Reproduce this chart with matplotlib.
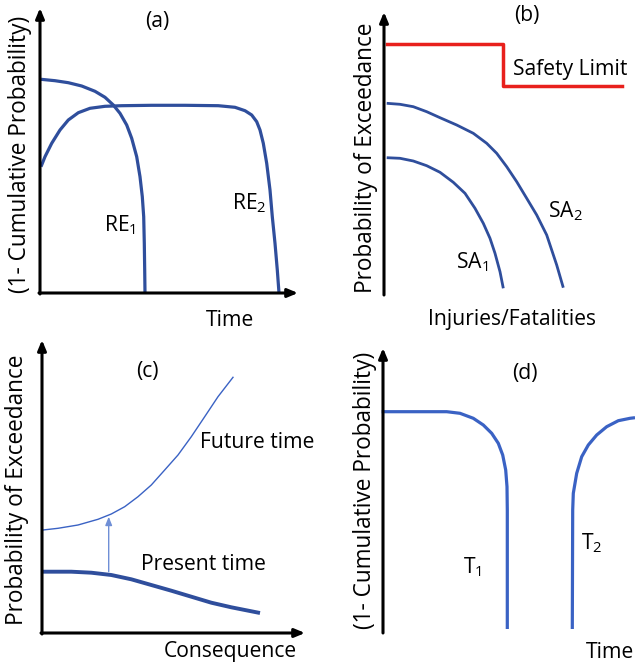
import matplotlib

matplotlib.use("Agg")

import matplotlib.pyplot as plt

plt.rcParams["font.family"] = ["Open Sans", "DejaVu Sans"]
plt.rcParams["mathtext.fontset"] = "custom"
plt.rcParams["mathtext.rm"] = "Open Sans"

# curve shapes, in figure pixels (x right, y down)
re1_x = [41, 55, 68.3, 81.7, 95, 105, 113.3, 120, 126.7, 131.7, 136.7, 140, 142.3, 143.7,
         144.3, 144.7, 145]
re1_y = [79.3, 80.7, 82.7, 86, 91.3, 97.3, 105, 113.3, 125, 138.3, 156.7, 176.7, 196.7,
         216.7, 243.3, 270, 293]
re2_x = [41, 45, 51.7, 60, 68.3, 78.3, 90, 105, 121.7, 151.7, 185, 218.3, 235, 245, 251.7,
         256.7, 260, 263.3, 266.7, 270, 272.3, 275, 277.3, 279]
re2_y = [166.7, 156.7, 143.3, 130, 120, 112.7, 108.3, 106.3, 105.7, 105.3, 105.3, 105.7,
         107.3, 110.7, 115, 121.7, 130, 143.3, 163.3, 190, 216.7, 243.3, 270, 293]

limit_x = [387, 503, 503, 622]
limit_y = [44, 44, 86, 86]
sa2_x = [386.7, 400, 413.3, 426.7, 440, 456.7, 473.3, 486.7, 496.7, 506.7, 516.7, 526.7,
         536.7, 546.7, 556.7, 563.3]
sa2_y = [103.3, 104.3, 106.7, 111.7, 117.7, 125, 133.3, 143.3, 153.3, 166.7, 181.7, 198.3,
         215, 235, 265, 287.7]
sa1_x = [386.7, 400, 413.3, 426.7, 440, 453.3, 465, 475, 483.3, 490, 495, 500, 503.3]
sa1_y = [157.7, 158.3, 161, 165.7, 172.3, 182.3, 193.3, 208.3, 223.3, 238.3, 253.3, 271.7,
         288.3]

future_x = [43, 58, 78, 98, 111.3, 124.7, 138, 151.3, 164.7, 178, 191.3, 204.7, 218, 233]
future_y = [530, 528.3, 525, 519.3, 514, 506.7, 496.7, 485, 470, 455, 436.7, 416.7, 396.7,
            377.3]
present_x = [43, 71.3, 91.3, 111.3, 131.3, 151.3, 171.3, 191.3, 211.3, 231.3, 260]
present_y = [571.7, 571.7, 572.7, 575, 579.3, 585, 590.7, 596.7, 602.7, 607.3, 613]
shift_x = [108.7, 108.7]
shift_y = [571.7, 516.7]

t1_x = [381.7, 446.7, 460, 473.3, 483.3, 491.7, 498.3, 502.7, 505.7, 507, 507.3, 507.3]
t1_y = [411.7, 411.7, 413.3, 418.3, 425, 433.3, 443.3, 455, 470, 486.7, 510, 629]
t2_x = [572.3, 572.7, 573.3, 576.7, 581.7, 588.3, 596.7, 606.7, 618.3, 630, 635]
t2_y = [629, 510, 493.3, 473.3, 456.7, 445, 435, 426.7, 420.7, 418.3, 417.7]

DARK = "#2f4e9c"
MID = "#3a62c4"
RED = "#e8201c"

fig = plt.figure(figsize=(6.35, 6.66), dpi=100)
ax = fig.add_axes([0, 0, 1, 1])
ax.set_xlim(0, 635)
ax.set_ylim(666, 0)
ax.axis("off")


def draw_axes(x0, y0, x1, y1):
    arrow = dict(arrowstyle="-|>,head_length=0.6,head_width=0.25", color="black", lw=2.2,
                 shrinkA=0, shrinkB=0)
    ax.annotate("", xy=(x1, y0), xytext=(x0 - 1, y0), arrowprops=arrow)
    ax.annotate("", xy=(x0, y1), xytext=(x0, y0 + 1), arrowprops=arrow)


fs = 15.2
fs_y = 16.3
# (a)
draw_axes(40, 293, 298, 8)
ax.plot(re1_x, re1_y, color=DARK, lw=2.3, solid_capstyle="butt")
ax.plot(re2_x, re2_y, color=DARK, lw=2.3, solid_capstyle="butt")
ax.text(157, 22, "(a)", fontsize=fs, ha="center", va="center")
ax.text(120, 225, r"RE$_\mathregular{1}$", fontsize=fs, ha="center", va="center")
ax.text(249, 203, r"RE$_\mathregular{2}$", fontsize=fs, ha="center", va="center")
ax.text(230, 320, "Time", fontsize=fs, ha="center", va="center")
ax.text(20, 154, "(1- Cumulative Probability)", fontsize=fs_y, rotation=90,
        ha="center", va="center")

# (b)
draw_axes(384, 294, 640, 12)
ax.plot(limit_x, limit_y, color=RED, lw=2.5)
ax.plot(sa2_x, sa2_y, color=DARK, lw=2.0, solid_capstyle="butt")
ax.plot(sa1_x, sa1_y, color=DARK, lw=2.0, solid_capstyle="butt")
ax.text(527, 16, "(b)", fontsize=fs, ha="center", va="center")
ax.text(570, 70, "Safety Limit", fontsize=fs, ha="center", va="center")
ax.text(565, 211, r"SA$_\mathregular{2}$", fontsize=fs, ha="center", va="center")
ax.text(472, 262, r"SA$_\mathregular{1}$", fontsize=fs, ha="center", va="center")
ax.text(512, 320, "Injuries/Fatalities", fontsize=fs, ha="center", va="center")
ax.text(366, 158, "Probability of Exceedance", fontsize=fs_y, rotation=90,
        ha="center", va="center")

# (c)
draw_axes(42, 633, 305, 340)
ax.plot(future_x, future_y, color=MID, lw=1.0)
ax.plot(present_x, present_y, color=DARK, lw=2.8, solid_capstyle="butt")
ax.annotate("", xy=(shift_x[1], shift_y[1]), xytext=(shift_x[0], shift_y[0]),
            arrowprops=dict(arrowstyle="-|>,head_length=0.5,head_width=0.2",
                            color="#6f8fd6", lw=1.0, shrinkA=0, shrinkB=0))
ax.text(147, 372, "(c)", fontsize=fs, ha="center", va="center")
ax.text(257, 442, "Future time", fontsize=fs, ha="center", va="center")
ax.text(203, 565, "Present time", fontsize=fs, ha="center", va="center")
ax.text(230, 651, "Consequence", fontsize=fs, ha="center", va="center")
ax.text(17, 490, "Probability of Exceedance", fontsize=fs_y, rotation=90,
        ha="center", va="center")

# (d)
draw_axes(383, 632, 640, 348)
ax.plot(t1_x, t1_y, color=MID, lw=2.3, solid_capstyle="butt")
ax.plot(t2_x, t2_y, color=MID, lw=2.3, solid_capstyle="butt")
ax.text(525, 373, "(d)", fontsize=fs, ha="center", va="center")
ax.text(472, 567, r"T$_\mathregular{1}$", fontsize=fs, ha="center", va="center")
ax.text(592, 543, r"T$_\mathregular{2}$", fontsize=fs, ha="center", va="center")
ax.text(634, 652, "Time", fontsize=fs, ha="right", va="center")
ax.text(365, 490, "(1- Cumulative Probability)", fontsize=fs_y, rotation=90,
        ha="center", va="center")

fig.savefig("out.png", dpi=100)
